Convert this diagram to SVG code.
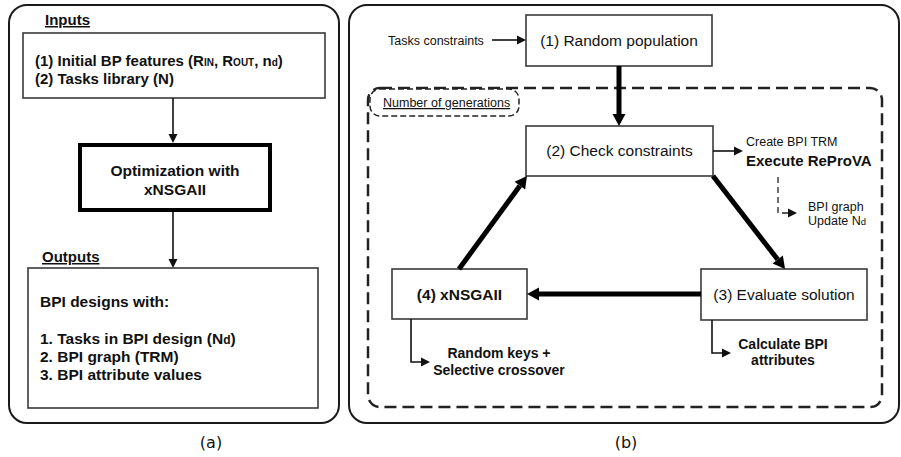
<svg xmlns="http://www.w3.org/2000/svg" width="901" height="457" viewBox="0 0 901 457">
  <style>
    .panel { fill: none; stroke: #1a1a1a; stroke-width: 2; }
    .box { fill: #fff; stroke: #3a3a3a; stroke-width: 1.6; }
    .bold-box { fill: #fff; stroke: #000; stroke-width: 4; }
    .txt { font-family: "Liberation Sans", Arial, sans-serif; fill: #111; }
    .b { font-weight: bold; }
    .cap { font-family: "DejaVu Sans", sans-serif; font-size: 16px; fill: #111; }
    .thin { fill: none; stroke: #111; stroke-width: 1.6; }
    .thick { fill: none; stroke: #000; stroke-width: 5; }
    .loop { fill: none; stroke: #222; stroke-width: 2.5; stroke-dasharray: 12 6; }
    .tag { fill: #fff; stroke: #222; stroke-width: 1.5; stroke-dasharray: 6 3; }
    .dash { fill: none; stroke: #222; stroke-width: 1.3; stroke-dasharray: 6 4; }
  </style>
  <defs>
    <marker id="ah" markerUnits="userSpaceOnUse" markerWidth="10" markerHeight="9" refX="0" refY="4.5" orient="auto" overflow="visible">
      <path d="M0,0 L9,4.5 L0,9 z" fill="#111"/>
    </marker>
    <marker id="ahb" markerUnits="userSpaceOnUse" markerWidth="13" markerHeight="13" refX="0" refY="6.5" orient="auto" overflow="visible">
      <path d="M0,0 L12,6.5 L0,13 z" fill="#000"/>
    </marker>
  </defs>

  <rect width="901" height="457" fill="#fff"/>

  <!-- panel (a) -->
  <rect class="panel" x="9" y="5" width="330" height="418" rx="18"/>
  <text class="txt b" x="45" y="25" font-size="15" text-decoration="underline">Inputs</text>

  <g id="inputs">
    <rect class="box" x="23" y="33" width="302" height="65"/>
    <text class="txt b" x="35" y="66" font-size="15">(1) Initial BP features (R<tspan font-size="10">IN</tspan>, R<tspan font-size="10">OUT</tspan>, n<tspan font-size="10">d</tspan>)</text>
    <text class="txt b" x="35" y="84" font-size="15">(2) Tasks library (N)</text>
  </g>

  <g id="optimization">
    <rect class="bold-box" x="80" y="145" width="190" height="65"/>
    <text class="txt b" x="175" y="175.5" font-size="15.5" text-anchor="middle">Optimization with</text>
    <text class="txt b" x="175" y="195" font-size="15.5" text-anchor="middle">xNSGAII</text>
  </g>

  <text class="txt b" x="42" y="262" font-size="15" text-decoration="underline">Outputs</text>
  <g id="outputs">
    <rect class="box" x="28" y="268" width="290" height="140"/>
    <text class="txt b" x="40" y="306.5" font-size="15.5">BPI designs with:</text>
    <text class="txt b" x="40" y="344" font-size="15.5">1. Tasks in BPI design (N<tspan font-size="12">d</tspan>)</text>
    <text class="txt b" x="40" y="362" font-size="15.5">2. BPI graph (TRM)</text>
    <text class="txt b" x="40" y="380" font-size="15.5">3. BPI attribute values</text>
  </g>

  <text class="cap" x="211" y="448" text-anchor="middle">(a)</text>

  <!-- panel (b) -->
  <rect class="panel" x="349" y="5" width="550" height="418" rx="18"/>

  <g id="generations-loop">
    <rect class="loop" x="368" y="88" width="514" height="319" rx="12"/>
    <rect class="tag" x="370" y="89" width="149" height="27" rx="10"/>
    <text class="txt" x="383" y="107" font-size="12.5" text-decoration="underline">Number of generations</text>
  </g>

  <g id="random-population">
    <rect class="box" x="526" y="15" width="186" height="51"/>
    <text class="txt" x="619" y="46" font-size="15.5" text-anchor="middle">(1) Random population</text>
  </g>

  <g id="check-constraints">
    <rect class="box" x="526" y="126" width="187" height="50"/>
    <text class="txt" x="619.5" y="156" font-size="15.5" text-anchor="middle">(2) Check constraints</text>
  </g>

  <g id="evaluate-solution">
    <rect class="box" x="701" y="269" width="166" height="51"/>
    <text class="txt" x="784" y="299.5" font-size="15.5" text-anchor="middle">(3) Evaluate solution</text>
  </g>

  <g id="xnsgaii">
    <rect class="box" x="392" y="269" width="135" height="50"/>
    <text class="txt b" x="459.5" y="300" font-size="15.5" text-anchor="middle">(4) xNSGAII</text>
  </g>

  <g id="annotations">
    <text class="txt" x="388" y="44.5" font-size="12.5">Tasks constraints</text>
    <text class="txt" x="746" y="145.5" font-size="12.5">Create BPI TRM</text>
    <text class="txt b" x="746" y="165.5" font-size="15">Execute ReProVA</text>
    <text class="txt" x="808" y="210.5" font-size="12.5">BPI graph</text>
    <text class="txt" x="808" y="224.5" font-size="12.5">Update N<tspan font-size="9.5">d</tspan></text>
    <text class="txt b" x="499" y="357.5" font-size="14" text-anchor="middle">Random keys +</text>
    <text class="txt b" x="499" y="374.5" font-size="14" text-anchor="middle">Selective crossover</text>
    <text class="txt b" x="783" y="348.5" font-size="14" text-anchor="middle">Calculate BPI</text>
    <text class="txt b" x="783" y="365" font-size="14" text-anchor="middle">attributes</text>
  </g>

  <text class="cap" x="626" y="448" text-anchor="middle">(b)</text>

  <g id="connectors">
    <!-- panel (a) flow -->
    <line class="thin" x1="173" y1="98" x2="173" y2="134" marker-end="url(#ah)"/>
    <line class="thin" x1="173" y1="212" x2="173" y2="259" marker-end="url(#ah)"/>
    <!-- panel (b) side arrows -->
    <line class="thin" x1="492" y1="40" x2="517" y2="40" marker-end="url(#ah)"/>
    <line class="thin" x1="713" y1="151" x2="734" y2="151" marker-end="url(#ah)"/>
    <path class="dash" d="M778,177 V213 H788" marker-end="url(#ah)"/>
    <path class="thin" d="M411,319 V362 H421" marker-end="url(#ah)"/>
    <path class="thin" d="M712,320 V353 H722" marker-end="url(#ah)"/>
    <!-- main cycle -->
    <line class="thick" x1="619" y1="66" x2="619" y2="114" marker-end="url(#ahb)"/>
    <line class="thick" x1="713" y1="176" x2="777.7" y2="259.5" marker-end="url(#ahb)"/>
    <line class="thick" x1="701" y1="294" x2="539" y2="294" marker-end="url(#ahb)"/>
    <line class="thick" x1="459" y1="269" x2="519.9" y2="185.7" marker-end="url(#ahb)"/>
  </g>
</svg>
